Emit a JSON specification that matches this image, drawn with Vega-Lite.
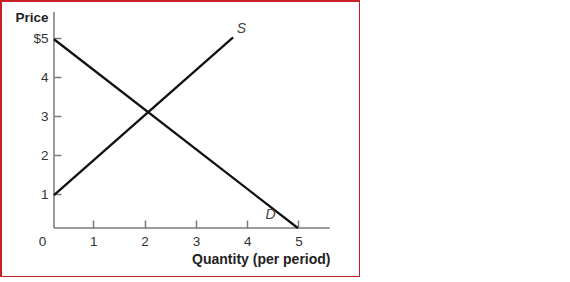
{
  "$schema": "https://vega.github.io/schema/vega-lite/v6.json",
  "width": 359,
  "height": 276,
  "autosize": "none",
  "padding": {"left": 1, "top": 1, "right": 0, "bottom": 0},
  "background": "white",
  "view": {"stroke": "#c62026", "strokeWidth": 2},
  "config": {"font": "Liberation Sans"},
  "layer": [
    {
      "data": {"values": [
        {"x": 0.233, "y": 0.134, "x2": 5.61, "y2": 0.134},
        {"x": 0.233, "y": 0.134, "x2": 0.233, "y2": 5.68}
      ]},
      "mark": {"type": "rule", "color": "#7a7a7a", "strokeWidth": 1.5},
      "encoding": {
        "x": {
          "field": "x", "type": "quantitative",
          "scale": {"domain": [-0.8, 6.2], "nice": false, "zero": false},
          "axis": {
            "orient": "bottom", "offset": -49, "domain": false, "grid": false,
            "values": [0, 1, 2, 3, 4, 5],
            "tickSize": -8, "tickColor": "#7a7a7a", "tickWidth": 1.5,
            "tickOpacity": {"condition": {"test": "datum.value == 0", "value": 0}, "value": 1},
            "labelFontSize": 13.5, "labelColor": "#333", "labelPadding": 14,
            "title": "Quantity (per period)", "titleFontSize": 14, "titleFontWeight": "bold",
            "titleColor": "#222", "titleAlign": "right", "titleAnchor": null,
            "titleX": 329, "titleY": 35, "titleBaseline": "alphabetic"
          }
        },
        "x2": {"field": "x2"},
        "y": {
          "field": "y", "type": "quantitative",
          "scale": {"domain": [-1.125, 5.963], "nice": false, "zero": false},
          "axis": {
            "orient": "left", "offset": -53, "domain": false, "grid": false,
            "values": [1, 2, 3, 4, 5],
            "labelExpr": "datum.value == 5 ? '$5' : datum.label",
            "tickSize": -7, "tickColor": "#7a7a7a", "tickWidth": 1.5,
            "labelFontSize": 13.5, "labelColor": "#333", "labelPadding": 13,
            "title": "Price", "titleFontSize": 13.5, "titleFontWeight": "bold",
            "titleColor": "#222", "titleAngle": 0, "titleAlign": "right", "titleAnchor": null,
            "titleX": -6, "titleY": 20.7, "titleBaseline": "alphabetic"
          }
        },
        "y2": {"field": "y2"}
      }
    },
    {
      "data": {"values": [
        {"curve": "D", "x": 0.233, "y": 4.98},
        {"curve": "D", "x": 4.987, "y": 0.134},
        {"curve": "S", "x": 0.233, "y": 0.98},
        {"curve": "S", "x": 3.726, "y": 5.03}
      ]},
      "mark": {"type": "line", "color": "#111", "strokeWidth": 2.3},
      "encoding": {
        "x": {"field": "x", "type": "quantitative"},
        "y": {"field": "y", "type": "quantitative"},
        "detail": {"field": "curve"}
      }
    },
    {
      "data": {"values": [
        {"lbl": "S", "x": 3.89, "y": 5.24},
        {"lbl": "D", "x": 4.455, "y": 0.467}
      ]},
      "mark": {"type": "text", "fontStyle": "italic", "fontSize": 14, "color": "#444"},
      "encoding": {
        "x": {"field": "x", "type": "quantitative"},
        "y": {"field": "y", "type": "quantitative"},
        "text": {"field": "lbl"}
      }
    }
  ]
}
